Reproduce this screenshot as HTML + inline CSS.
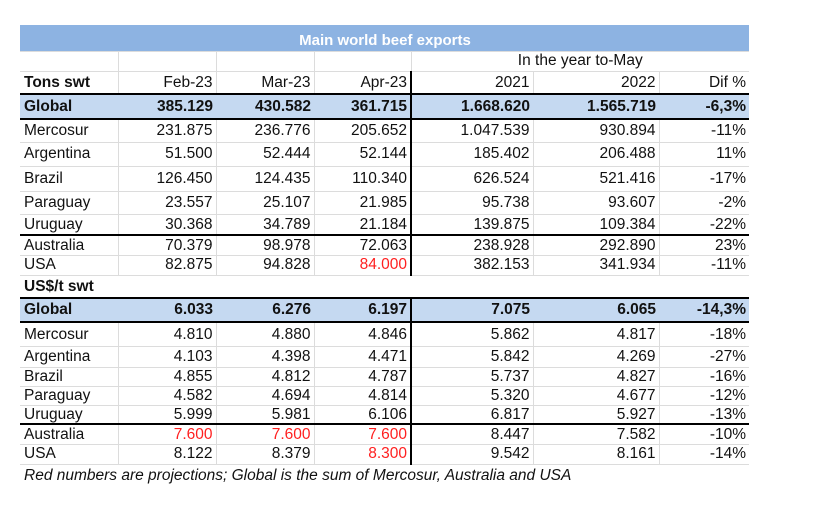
<!DOCTYPE html>
<html><head><style>
body{margin:0;background:#fff;width:838px;height:508px;position:relative;font-family:"Liberation Sans",Arial,sans-serif;}
table{position:absolute;left:20px;top:25px;border-collapse:collapse;table-layout:fixed;font-size:15.5px;color:#111;}
td{padding:0 3px 0 3px;text-align:right;border:1px solid #dcdcdc;white-space:nowrap;overflow:hidden;line-height:1;}
td:first-child{text-align:left;padding-left:4px;border-left:none;}
td:last-child{border-right:none;}
td.k{border-right:2px solid #000;}
tr.title td{background:#8db3e2;color:#fff;font-weight:bold;text-align:center;border:none;font-size:15px;padding-top:5px;}
tr.g td{background:#c5d9f1;font-weight:bold;border-top:2px solid #000;border-bottom:2px solid #000;border-left:none;border-right:none;}
tr.g td.k{border-right:2px solid #000;}
tr.hd td{font-weight:normal;}
tr.hd td:first-child{font-weight:bold;}
tr.bl td{border-top:2px solid #000;}
tr.sec td{border:none;font-weight:bold;text-align:left;}
.r{color:#ff2020;}
.foot{position:absolute;left:24px;top:467px;font-size:15.5px;font-style:italic;color:#111;}
</style></head><body>
<table>
<colgroup><col style="width:98px"><col style="width:98px"><col style="width:98px"><col style="width:97px"><col style="width:122px"><col style="width:126px"><col style="width:90px"></colgroup>
<tr class="title" style="height:26px"><td colspan="7" style="text-align:center">Main world beef exports</td></tr>
<tr style="height:20px"><td></td><td></td><td></td><td class="k" style="border-right:1px solid #dcdcdc"></td><td colspan="3" style="text-align:center">In the year to-May</td></tr>
<tr class="hd" style="height:23px"><td>Tons swt</td><td>Feb-23</td><td>Mar-23</td><td class="k">Apr-23</td><td>2021</td><td>2022</td><td>Dif %</td></tr>
<tr class="g" style="height:25px"><td>Global</td><td>385.129</td><td>430.582</td><td class="k">361.715</td><td>1.668.620</td><td>1.565.719</td><td>-6,3%</td></tr>
<tr style="height:23px"><td>Mercosur</td><td>231.875</td><td>236.776</td><td class="k">205.652</td><td>1.047.539</td><td>930.894</td><td>-11%</td></tr>
<tr style="height:24px"><td>Argentina</td><td>51.500</td><td>52.444</td><td class="k">52.144</td><td>185.402</td><td>206.488</td><td>11%</td></tr>
<tr style="height:25px"><td>Brazil</td><td>126.450</td><td>124.435</td><td class="k">110.340</td><td>626.524</td><td>521.416</td><td>-17%</td></tr>
<tr style="height:23px"><td>Paraguay</td><td>23.557</td><td>25.107</td><td class="k">21.985</td><td>95.738</td><td>93.607</td><td>-2%</td></tr>
<tr style="height:21px"><td>Uruguay</td><td>30.368</td><td>34.789</td><td class="k">21.184</td><td>139.875</td><td>109.384</td><td>-22%</td></tr>
<tr class="bl" style="height:20px"><td>Australia</td><td>70.379</td><td>98.978</td><td class="k">72.063</td><td>238.928</td><td>292.890</td><td>23%</td></tr>
<tr style="height:20px"><td>USA</td><td>82.875</td><td>94.828</td><td class="k r">84.000</td><td>382.153</td><td>341.934</td><td>-11%</td></tr>
<tr class="sec" style="height:23px"><td colspan="7">US$/t swt</td></tr>
<tr class="g" style="height:24px"><td>Global</td><td>6.033</td><td>6.276</td><td class="k">6.197</td><td>7.075</td><td>6.065</td><td>-14,3%</td></tr>
<tr style="height:24px"><td>Mercosur</td><td>4.810</td><td>4.880</td><td class="k">4.846</td><td>5.862</td><td>4.817</td><td>-18%</td></tr>
<tr style="height:21px"><td>Argentina</td><td>4.103</td><td>4.398</td><td class="k">4.471</td><td>5.842</td><td>4.269</td><td>-27%</td></tr>
<tr style="height:19px"><td>Brazil</td><td>4.855</td><td>4.812</td><td class="k">4.787</td><td>5.737</td><td>4.827</td><td>-16%</td></tr>
<tr style="height:19px"><td>Paraguay</td><td>4.582</td><td>4.694</td><td class="k">4.814</td><td>5.320</td><td>4.677</td><td>-12%</td></tr>
<tr style="height:19px"><td>Uruguay</td><td>5.999</td><td>5.981</td><td class="k">6.106</td><td>6.817</td><td>5.927</td><td>-13%</td></tr>
<tr class="bl" style="height:20px"><td>Australia</td><td class="r">7.600</td><td class="r">7.600</td><td class="k r">7.600</td><td>8.447</td><td>7.582</td><td>-10%</td></tr>
<tr style="height:20px"><td>USA</td><td>8.122</td><td>8.379</td><td class="k r">8.300</td><td>9.542</td><td>8.161</td><td>-14%</td></tr>
</table>
<div class="foot">Red numbers are projections; Global is the sum of Mercosur, Australia and USA</div>
</body></html>
